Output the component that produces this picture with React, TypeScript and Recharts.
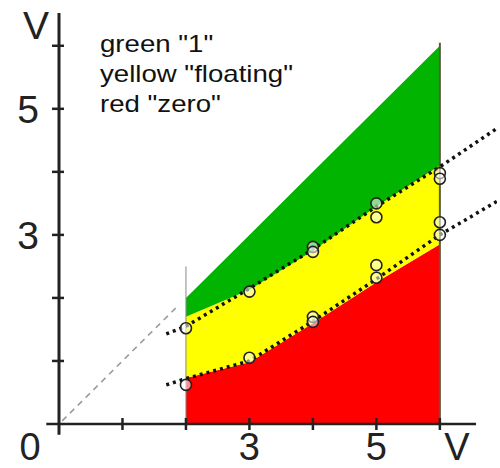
import React from 'react';
import {
  ComposedChart, Area, Line, Scatter, XAxis, YAxis, ReferenceLine,
} from 'recharts';

// region boundaries (x = input voltage)
const regionX = [2, 3, 4, 5, 6];
const redTop = [0.73, 0.98, 1.6, 2.25, 2.85];
const greenBottom = [1.7, 2.13, 2.75, 3.45, 4.1];
const greenTop = [2, 3, 4, 5, 6];

// dotted measured curves
const dottedX = [1.69, 2, 3, 4, 5, 6, 6.93];
const upperDotted = [1.43, 1.55, 2.15, 2.77, 3.45, 4.08, 4.71];
const lowerDotted = [0.62, 0.72, 1.0, 1.63, 2.3, 3.0, 3.55];

// open circles (measured points)
const circleX = [2, 3, 4, 4, 5, 5, 6, 6];
const upperCircles = [1.52, 2.1, 2.81, 2.73, 3.5, 3.28, 3.98, 3.89];
const lowerCircles = [0.62, 1.05, 1.7, 1.62, 2.52, 2.32, 3.2, 3.0];

// dashed diagonal y = x
const diagX = [0.05, 1.85];
const diagY = [0.05, 1.85];

const xTicks = [0, 1, 2, 3, 4, 5, 6, 6.27];
const xTickLabels = ['0', '', '', '3', '', '5', '', 'V'];
const yTicks = [1, 2, 3, 4, 5, 6, 6.33];
const yTickLabels = ['', '', '3', '', '5', '', 'V'];

const legendLines = ['green "1"', 'yellow "floating"', 'red "zero"'];

const areaData = regionX.map((x, i) => ({
  x,
  red: [0, redTop[i]],
  yellow: [redTop[i], greenBottom[i]],
  green: [greenBottom[i], greenTop[i]],
}));
const upperLine = dottedX.map((x, i) => ({ x, y: upperDotted[i] }));
const lowerLine = dottedX.map((x, i) => ({ x, y: lowerDotted[i] }));
const circles = [
  ...circleX.map((x, i) => ({ x, y: upperCircles[i] })),
  ...circleX.map((x, i) => ({ x, y: lowerCircles[i] })),
];
const diagData = diagX.map((x, i) => ({ x, y: diagY[i] }));

const font = '"Liberation Sans", Arial, sans-serif';

const XTick = (props: any) => {
  const { x, y, payload } = props;
  const v = payload.value;
  const label = xTickLabels[xTicks.indexOf(v)];
  const mark = Number.isInteger(v) && v > 0;
  return (
    <g>
      {mark && <line x1={x} x2={x} y1={y - 6} y2={y + 6} stroke="#222" strokeWidth={2.5} />}
      <text x={x + (v === 0 ? -29 : 0)} y={y + 36} textAnchor="middle" fontSize={38} fontFamily={font} fill="#222">
        {label}
      </text>
    </g>
  );
};

const YTick = (props: any) => {
  const { x, y, payload } = props;
  const v = payload.value;
  const label = yTickLabels[yTicks.indexOf(v)];
  const mark = Number.isInteger(v);
  return (
    <g>
      {mark && <line x1={x - 7} x2={x + 5} y1={y} y2={y} stroke="#222" strokeWidth={2.5} />}
      <text x={x + (label === 'V' ? -23 : -31)} y={y + 14} textAnchor="middle" fontSize={39} fontFamily={font} fill="#222">
        {label}
      </text>
    </g>
  );
};

const Circle = (props: any) => (
  <circle cx={props.cx} cy={props.cy} r={5.5} fill="#fff" fillOpacity={0.55} stroke="#222" strokeWidth={1.6} />
);

export default function App() {
  return (
    <div style={{ position: 'absolute', left: 0, top: 0, width: 500, height: 468, background: '#fff' }}>
      <ComposedChart width={500} height={468} data={areaData} margin={{ top: 13, right: 3, left: 0, bottom: 0 }}>
        <XAxis
          type="number" dataKey="x" domain={[0, 6.9]} ticks={xTicks} allowDataOverflow
          axisLine={false} tickLine={false} tickSize={0} tickMargin={0} height={44}
          tick={<XTick />} interval={0}
        />
        <YAxis
          type="number" domain={[0, 6.52]} ticks={yTicks} allowDataOverflow
          axisLine={false} tickLine={false} tickSize={0} tickMargin={0} width={59}
          tick={<YTick />} interval={0}
        />
        <Area type="linear" dataKey="red" fill="#ff0000" fillOpacity={1} stroke="none" isAnimationActive={false} />
        <Area type="linear" dataKey="yellow" fill="#ffff00" fillOpacity={1} stroke="none" isAnimationActive={false} />
        <Area type="linear" dataKey="green" fill="#00b400" fillOpacity={1} stroke="none" isAnimationActive={false} />
        <ReferenceLine segment={[{ x: 2, y: 0 }, { x: 2, y: 2.5 }]} stroke="#888" strokeWidth={1} ifOverflow="visible" />
        <ReferenceLine segment={[{ x: 6, y: 0 }, { x: 6, y: 6.05 }]} stroke="#5a5a40" strokeWidth={2} ifOverflow="visible" />
        <ReferenceLine segment={[{ x: -0.2, y: 0 }, { x: 6.57, y: 0 }]} stroke="#222" strokeWidth={2.5} ifOverflow="visible" />
        <ReferenceLine segment={[{ x: 0, y: -0.17 }, { x: 0, y: 6.52 }]} stroke="#222" strokeWidth={3} ifOverflow="visible" />
        <Line data={diagData} dataKey="y" type="linear" stroke="#999" strokeWidth={1.5} strokeDasharray="6 5" dot={false} isAnimationActive={false} />
        <Line data={upperLine} dataKey="y" type="linear" stroke="#111" strokeWidth={3.5} strokeDasharray="3 4" dot={false} isAnimationActive={false} />
        <Line data={lowerLine} dataKey="y" type="linear" stroke="#111" strokeWidth={3.5} strokeDasharray="3 4" dot={false} isAnimationActive={false} />
        <Scatter data={circles} dataKey="y" shape={<Circle />} isAnimationActive={false} />
      </ComposedChart>
      <div style={{ position: 'absolute', left: 100, top: 29, fontFamily: font, fontSize: 24, lineHeight: '30px', color: '#111', transform: 'scaleX(1.15)', transformOrigin: 'left top', whiteSpace: 'nowrap' }}>
        {legendLines.map((t) => <div key={t}>{t}</div>)}
      </div>
    </div>
  );
}
